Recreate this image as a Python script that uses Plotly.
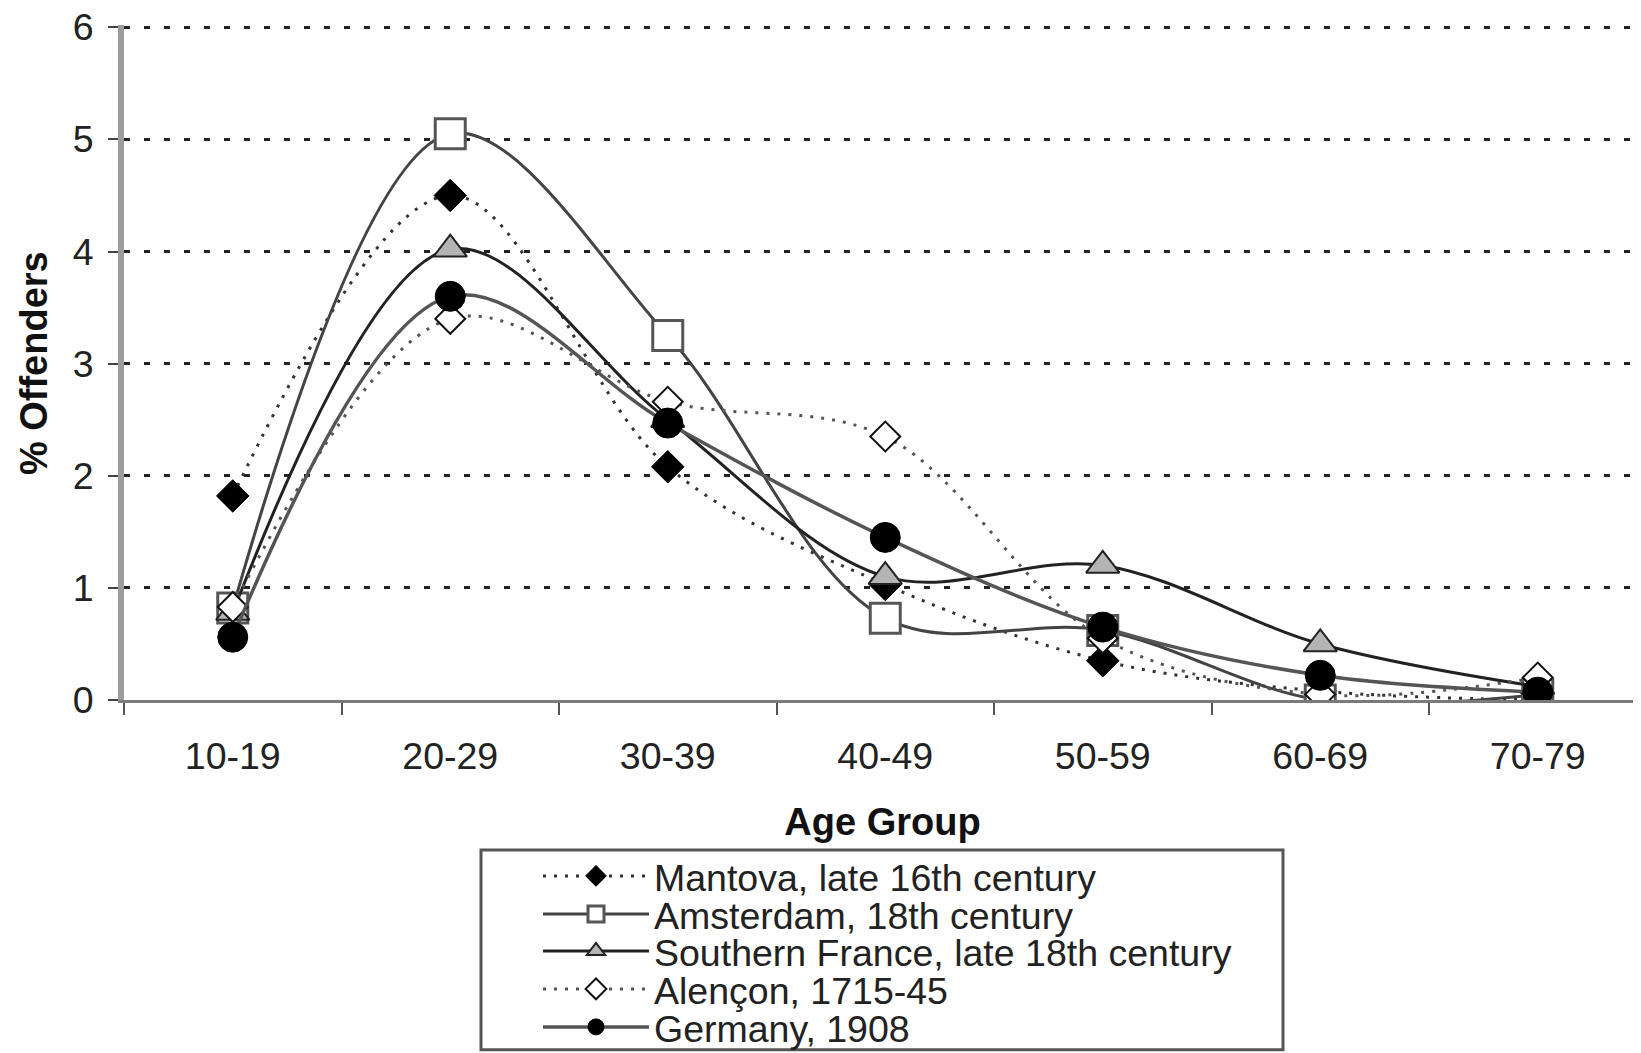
import plotly.graph_objects as go

# ---- data ----
age_groups = ["10-19", "20-29", "30-39", "40-49", "50-59", "60-69", "70-79"]
mantova = [1.82, 4.50, 2.08, 1.03, 0.35, 0.08, 0.00]
amsterdam = [0.82, 5.05, 3.25, 0.73, 0.62, 0.00, 0.05]
southern_france = [0.78, 4.02, 2.50, 1.10, 1.20, 0.50, 0.12]
alencon = [0.83, 3.40, 2.66, 2.35, 0.55, 0.05, 0.20]
germany = [0.56, 3.60, 2.47, 1.45, 0.65, 0.22, 0.07]

series_names = [
    "Mantova, late 16th century",
    "Amsterdam, 18th century",
    "Southern France, late 18th century",
    "Alençon, 1715-45",
    "Germany, 1908",
]
y_ticks = [0, 1, 2, 3, 4, 5, 6]
x_title = "Age Group"
y_title = "% Offenders"

FONT = "Liberation Sans, Arial, sans-serif"
W, H = 1641, 1053
OFF = 8  # page body margin of the written html

styles = [
    dict(line=dict(color="#333333", width=3, dash="3px,8px", shape="spline"),
         marker=dict(symbol="diamond", size=25, color="black", line=dict(color="black", width=1))),
    dict(line=dict(color="#444444", width=3, shape="spline"),
         marker=dict(symbol="square", size=30, color="white", line=dict(color="#555555", width=3))),
    dict(line=dict(color="#222222", width=3, shape="spline"),
         marker=dict(symbol="triangle-up", size=29, color="#b4b4b4", line=dict(color="#222222", width=2))),
    dict(line=dict(color="#555555", width=3, dash="3px,8px", shape="spline"),
         marker=dict(symbol="diamond", size=23, color="white", line=dict(color="#111111", width=2))),
    dict(line=dict(color="#555555", width=3.5, shape="spline"),
         marker=dict(symbol="circle", size=30, color="black", line=dict(color="black", width=1))),
]
values = [mantova, amsterdam, southern_france, alencon, germany]
legend_ids = ["legend", "legend2", "legend3", "legend4", "legend5"]

fig = go.Figure()
for name, vals, st, lg in zip(series_names, values, styles, legend_ids):
    fig.add_trace(go.Scatter(
        x=age_groups, y=vals, name=name, mode="lines+markers",
        line=st["line"], marker=st["marker"], legend=lg,
    ))

ITEMW = 106
# legend rows (page pixel rows -> container coordinates)
row_px = [876, 914, 951, 989, 1027]
legend_layout = {}
for lg, py in zip(legend_ids, row_px):
    legend_layout[lg] = dict(
        xref="container", yref="container",
        x=(654 - OFF - ITEMW - 10) / W, y=1 - (py - OFF) / H,
        xanchor="left", yanchor="middle",
        bgcolor="rgba(0,0,0,0)", borderwidth=0,
        font=dict(family=FONT, size=37.5, color="#222222"),
        itemwidth=ITEMW,
    )

# plot area in figure pixels (y = 0 at page row 700, y = 6 at page row 27)
Y_MAX = 6.02
unit = (700 - 27) / 6
plot_left = 124 - OFF
plot_bottom = 700 - OFF
plot_top = plot_bottom - Y_MAX * unit
plot_right = W - OFF
plot_w = plot_right - plot_left
plot_h = plot_bottom - plot_top

fig.update_layout(
    width=W, height=H, autosize=False,
    margin=dict(l=plot_left, r=W - plot_right, t=plot_top, b=H - plot_bottom, pad=0, autoexpand=False),
    paper_bgcolor="white", plot_bgcolor="white",
    font=dict(family=FONT, size=37, color="#222222"),
    showlegend=True,
    **legend_layout,
)

fig.update_xaxes(
    type="category", categoryorder="array", categoryarray=age_groups,
    range=[-0.5, -0.5 + plot_w / 217.5],
    showgrid=False, zeroline=False,
    showline=True, linecolor="#7a7a7a", linewidth=3,
    ticks="outside", tickson="boundaries", ticklen=12, tickwidth=2, tickcolor="#555555",
    tickfont=dict(family=FONT, size=37.5, color="#222222"),
    tickangle=0,
    ticklabelstandoff=21,
    title=dict(text=x_title, font=dict(family=FONT, size=38, color="#111111", weight="bold"), standoff=33),
)
fig.update_yaxes(
    range=[0, Y_MAX], tickvals=y_ticks,
    showgrid=True, gridcolor="#222222", gridwidth=3, griddash="6px,14px",
    zeroline=False,
    showline=True, linecolor="#9c9c9c", linewidth=6,
    ticks="outside", ticklen=10, tickwidth=2, tickcolor="#444444",
    tickfont=dict(family=FONT, size=37.5, color="#222222"),
    ticklabelstandoff=7,
    ticklabeloverflow="allow",
)

# y axis title
fig.add_annotation(
    text=y_title, textangle=-90, showarrow=False,
    xref="paper", yref="paper",
    x=(34 - OFF - plot_left) / plot_w, y=(plot_bottom - (363 - OFF)) / plot_h,
    xanchor="center", yanchor="middle",
    font=dict(family=FONT, size=38, color="#111111", weight="bold"),
)

# legend frame
fig.add_shape(
    type="rect", xref="paper", yref="paper",
    x0=(481 - OFF - plot_left) / plot_w, x1=(1283 - OFF - plot_left) / plot_w,
    y0=(plot_bottom - (1050 - OFF)) / plot_h, y1=(plot_bottom - (850 - OFF)) / plot_h,
    line=dict(color="#555555", width=3), fillcolor="rgba(0,0,0,0)", layer="above",
)

fig.write_html("out.html")
